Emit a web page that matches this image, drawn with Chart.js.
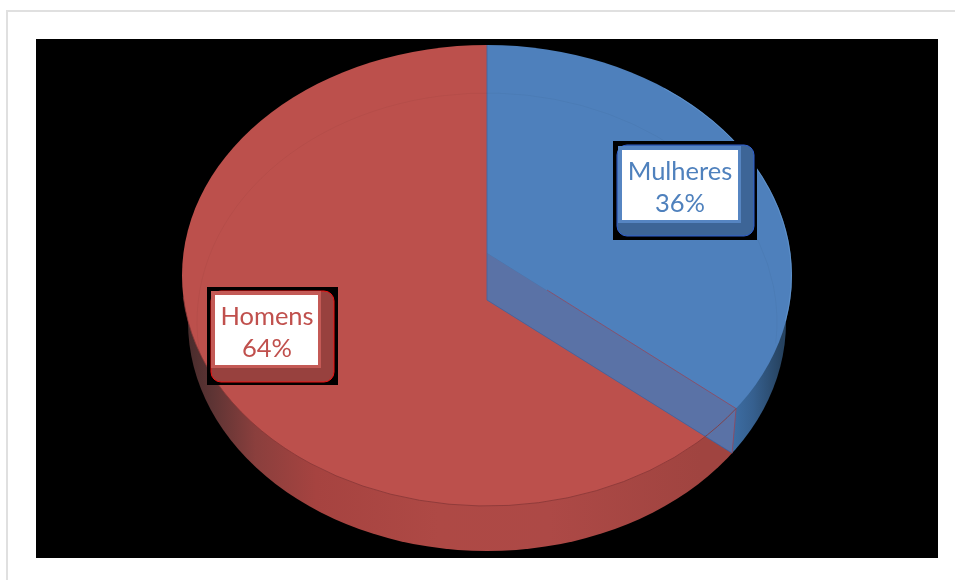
<!DOCTYPE html>
<html><head><meta charset="utf-8">
<style>
html,body{margin:0;padding:0;background:#fff;width:955px;height:580px;overflow:hidden}
#frame{position:absolute;left:6px;top:10px;width:949px;height:570px;border-left:2px solid #e0e0e0;border-top:2px solid #e0e0e0;box-sizing:border-box}
#plot{position:absolute;left:36px;top:39px;width:902px;height:519px;background:#000}
canvas{position:absolute;left:0;top:0}
</style></head><body>
<div id="frame"></div><div id="plot"></div>
<canvas id="c" width="955" height="580"></canvas>
<script src="https://cdn.jsdelivr.net/npm/chart.js@4"></script>
<script>
const categories = ['Mulheres', 'Homens'];
const values = [36, 64];
const sliceColors = ['#4e80bc', '#bc504c'];
const labelColors = ['#4f81bd', '#c0504d'];

// view of the tilted disc
const tilt = 0.755, depth = 47;
const topFace = {dy: 22.5, rx: 305, ry: 230.5};
const baseFace = {dy: 69, rx: 299, ry: 229};

// callout boxes: outer black, bevel, white panel
const boxes = [
  {black:[613,141,144,99], bevel:[617,145,137,91], panel:[622,150,116,70], text:[680,180,212], dark:'#3d6597', light:'#5685c2', edge:'#2f5fd0'},
  {black:[207,287,131,98], bevel:[211,291,123,91], panel:[215,295,103,70], text:[267,325,357], dark:'#98413e', light:'#c45a56', edge:'#f01010'}
];

function ellipsePath(ctx, a, f) {
  ctx.beginPath();
  ctx.ellipse(a.x, a.y + f.dy, f.rx, f.ry, 0, 0, Math.PI * 2);
}
function rimPoint(a, f, angle, shift) {
  // point where a slice edge meets a face ellipse
  const dx = Math.cos(angle), dy = Math.sin(angle) * tilt;
  let lo = 0, hi = 1000;
  for (let i = 0; i < 40; i++) {
    const t = (lo + hi) / 2;
    const v = (t*dx/f.rx)**2 + ((shift + t*dy - f.dy)/f.ry)**2;
    if (v < 1) lo = t; else hi = t;
  }
  return {x: a.x + lo*dx, y: a.y + shift + lo*dy};
}
function paintSlice(ctx, arc, shift, fill) {
  const keep = arc.options;
  arc.options = {backgroundColor: fill, borderColor: fill, borderWidth: 0, borderAlign: 'center',
    borderRadius: 0, spacing: 0, offset: 0, circular: true};
  ctx.save();
  ctx.translate(arc.x, arc.y + shift);
  ctx.scale(1, tilt);
  ctx.translate(-arc.x, -arc.y);
  arc.draw(ctx);
  ctx.restore();
  arc.options = keep;
}

const disc3d = {
  id: 'disc3d',
  beforeDatasetsDraw(chart) {
    const ctx = chart.ctx;
    const [blue, red] = chart.getDatasetMeta(0).data;
    const a = {x: blue.x, y: blue.y};
    const L = a.x - topFace.rx, R = a.x + topFace.rx;

    // side wall
    const redWall = ctx.createLinearGradient(L, 0, R, 0);
    redWall.addColorStop(0, '#432a2a');
    redWall.addColorStop(0.05, '#5e3434');
    redWall.addColorStop(0.12, '#8a3f3d');
    redWall.addColorStop(0.22, '#a64340');
    redWall.addColorStop(0.42, '#ae4945');
    redWall.addColorStop(0.6, '#ad4946');
    redWall.addColorStop(0.85, '#a04440');
    const blueWall = ctx.createLinearGradient(a.x + 240, 0, R, 0);
    blueWall.addColorStop(0, '#3f71a9');
    blueWall.addColorStop(0.4, '#36608f');
    blueWall.addColorStop(0.85, '#26425f');
    blueWall.addColorStop(1, '#2a4a6c');
    ctx.save();
    ellipsePath(ctx, a, baseFace); ctx.clip();
    paintSlice(ctx, red, depth, redWall);
    paintSlice(ctx, blue, depth, blueWall);
    ctx.restore();

    // inner wall of the blue slice, seen through the disc
    const end = blue.endAngle;
    const p = rimPoint(a, topFace, end, 0), q = rimPoint(a, baseFace, end, depth);
    ctx.save();
    ctx.fillStyle = '#5a72a6';
    ctx.beginPath();
    ctx.moveTo(a.x, a.y); ctx.lineTo(p.x, p.y); ctx.lineTo(q.x, q.y); ctx.lineTo(a.x, a.y + depth);
    ctx.closePath(); ctx.fill();
    ctx.restore();

    // top faces
    ctx.save();
    ellipsePath(ctx, a, topFace); ctx.clip();
    paintSlice(ctx, blue, 0, sliceColors[0]);
    paintSlice(ctx, red, depth, sliceColors[1]);
    ctx.restore();

    // strip edges and seam lines
    ctx.save();
    ctx.lineWidth = 1;
    ctx.strokeStyle = 'rgba(70,100,160,0.9)';
    ctx.beginPath(); ctx.moveTo(a.x, a.y - 208); ctx.lineTo(a.x, a.y + depth); ctx.lineTo(q.x, q.y); ctx.stroke();
    ctx.strokeStyle = 'rgba(150,70,90,0.8)';
    ctx.beginPath(); ctx.moveTo(a.x + 60, a.y + 37); ctx.lineTo(p.x, p.y); ctx.lineTo(q.x, q.y); ctx.stroke();
    const t0 = Math.atan2((p.y - a.y - topFace.dy) / topFace.ry, (p.x - a.x) / topFace.rx);
    ctx.strokeStyle = 'rgba(135,55,55,0.8)';
    ctx.beginPath(); ctx.ellipse(a.x, a.y + topFace.dy, topFace.rx, topFace.ry, 0, t0, Math.PI * 0.97); ctx.stroke();
    ctx.strokeStyle = 'rgba(0,0,0,0.035)';
    ctx.beginPath(); ctx.ellipse(a.x, a.y + baseFace.dy, baseFace.rx - 9, baseFace.ry, 0, Math.PI * 0.95, Math.PI * 2.03); ctx.stroke();
    ctx.strokeStyle = 'rgba(110,160,215,0.55)';
    ctx.beginPath(); ctx.ellipse(a.x, a.y + topFace.dy, topFace.rx - 0.5, topFace.ry - 0.5, 0, -0.95, 0.2); ctx.stroke();
    ctx.restore();
    return false;
  },
  afterDraw(chart) {
    const ctx = chart.ctx;
    const total = values.reduce((s, v) => s + v, 0);
    boxes.forEach((b, i) => {
      ctx.save();
      ctx.fillStyle = '#000'; ctx.fillRect(...b.black);
      ctx.beginPath(); ctx.roundRect(...b.bevel, 10);
      ctx.fillStyle = b.dark; ctx.fill();
      ctx.lineWidth = 1; ctx.strokeStyle = b.edge; ctx.stroke();
      const [x, y, w, h] = b.panel;
      ctx.fillStyle = b.light; ctx.fillRect(x - 4, y - 4, w + 7, h + 7);
      ctx.fillStyle = '#fff'; ctx.fillRect(x, y, w, h);
      ctx.fillStyle = labelColors[i];
      ctx.font = '25.5px Lato, "Open Sans", sans-serif';
      ctx.textAlign = 'center'; ctx.textBaseline = 'alphabetic';
      ctx.fillText(categories[i], b.text[0], b.text[1]);
      ctx.fillText(Math.round(values[i] / total * 100) + '%', b.text[0], b.text[2]);
      ctx.restore();
    });
  }
};

new Chart(document.getElementById('c'), {
  type: 'pie',
  data: {labels: categories, datasets: [{data: values, backgroundColor: sliceColors, borderWidth: 0, radius: '560', clip: false}]},
  options: {
    responsive: false, animation: false, events: [], devicePixelRatio: 1,
    layout: {padding: {left: 19, right: 0, top: 0, bottom: 74}},
    plugins: {legend: {display: false}, tooltip: {enabled: false}}
  },
  plugins: [disc3d]
});
</script>
</body></html>
